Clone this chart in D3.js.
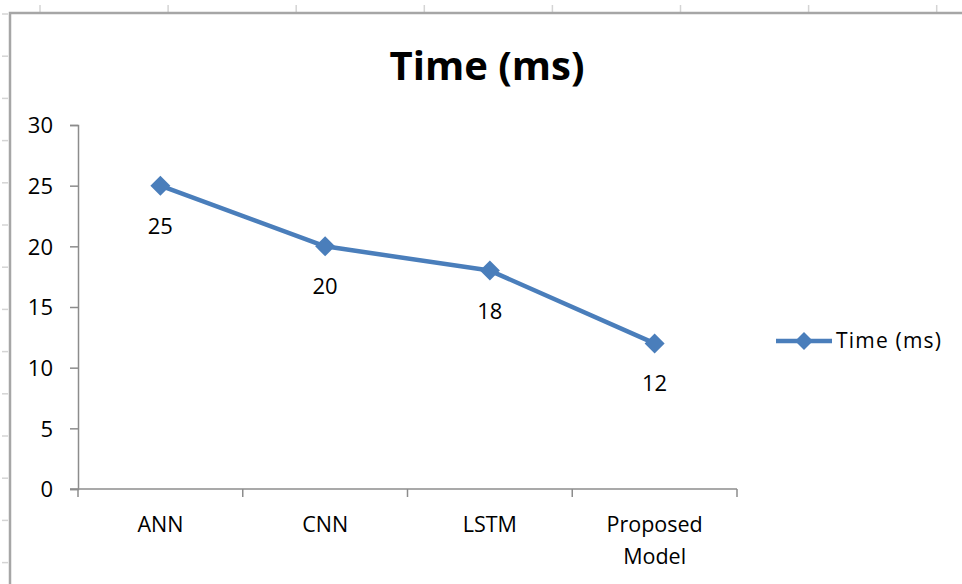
<!DOCTYPE html>
<html>
<head>
<meta charset="utf-8">
<script src="https://cdn.jsdelivr.net/npm/d3@7/dist/d3.min.js"></script>
<style>
  html, body { margin: 0; padding: 0; background: #fff; }
  svg { display: block; }
  text { font-family: "Open Sans", "Liberation Sans", sans-serif; fill: #000; }
</style>
</head>
<body>
<svg id="chart" width="962" height="584"></svg>
<script>
const categories = ["ANN", "CNN", "LSTM", "Proposed Model"];
const timeValues = [25, 20, 18, 12];
const seriesName = "Time (ms)";
const chartTitle = "Time (ms)";
const yTicks = [0, 5, 10, 15, 20, 25, 30];

const svg = d3.select("#chart");
const W = 962, H = 584;
const blue = "#4a7ebb";
const axisColor = "#8c8c8c";

// spreadsheet background marks (column / row gridline stubs)
const colMarks = d3.range(8).map(i => 40 + i * 128.1);
svg.append("g").selectAll("line").data(colMarks).join("line")
  .attr("x1", d => d).attr("x2", d => d).attr("y1", 5).attr("y2", 12)
  .attr("stroke", "#d4d4d4").attr("stroke-width", 1.5);
const rowMarks = d3.range(14).map(i => 14 + i * 42.2);
svg.append("g").selectAll("line").data(rowMarks).join("line")
  .attr("x1", 2).attr("x2", 8).attr("y1", d => d).attr("y2", d => d)
  .attr("stroke", "#d4d4d4").attr("stroke-width", 1.5);

// chart area border
svg.append("path")
  .attr("d", `M10,${H + 5} L10,13 L${W + 5},13`)
  .attr("fill", "none").attr("stroke", "#a6a6a6").attr("stroke-width", 2.5);

// title
svg.append("text")
  .attr("x", 487).attr("y", 80)
  .attr("text-anchor", "middle")
  .style("font-size", "40px").style("font-weight", "bold")
  .text(chartTitle);

const x0 = 78, x1 = 737, yTop = 125, yBot = 489;
const x = d3.scaleBand().domain(categories).range([x0, x1]);
const y = d3.scaleLinear().domain([0, 30]).range([yBot, yTop]);

// y axis
const yAxis = svg.append("g").attr("transform", `translate(${x0},0)`)
  .call(d3.axisLeft(y).tickValues(yTicks).tickSize(8).tickPadding(17));
yAxis.select(".domain").attr("stroke", axisColor).attr("stroke-width", 1.5);
yAxis.selectAll(".tick line").attr("stroke", axisColor).attr("stroke-width", 1.5);
yAxis.selectAll(".tick text")
  .style("font-size", "22px").style("font-family", "'Open Sans', sans-serif")
  .attr("fill", "#000").attr("dy", "0.36em");

// x axis
const xAxisG = svg.append("g").attr("transform", `translate(0,${yBot})`);
xAxisG.append("line").attr("x1", x0 - 8).attr("x2", x1)
  .attr("y1", 0).attr("y2", 0).attr("stroke", axisColor).attr("stroke-width", 1.5);
const bounds = categories.map(c => x(c)).concat([x1]);
xAxisG.selectAll("line.tk").data(bounds).join("line").attr("class", "tk")
  .attr("x1", d => d).attr("x2", d => d).attr("y1", 0).attr("y2", 8)
  .attr("stroke", axisColor).attr("stroke-width", 1.5);
const catLabels = xAxisG.selectAll("text.cat").data(categories).join("text")
  .attr("class", "cat")
  .attr("x", d => x(d) + x.bandwidth() / 2)
  .attr("y", 43)
  .attr("text-anchor", "middle")
  .style("font-size", "21.5px");
catLabels.each(function(d) {
  const words = d.split(" ");
  const t = d3.select(this);
  words.forEach((w, i) => {
    t.append("tspan").attr("x", x(d) + x.bandwidth() / 2)
      .attr("dy", i === 0 ? 0 : 32).text(w);
  });
});

// line
const px = d => x(d) + x.bandwidth() / 2;
const line = d3.line().x((d, i) => px(categories[i])).y(d => y(d));
svg.append("path").datum(timeValues)
  .attr("d", line).attr("fill", "none")
  .attr("stroke", blue).attr("stroke-width", 4.5)
  .attr("stroke-linejoin", "round");

const diamond = (cx, cy, r) => `M${cx},${cy - r}L${cx + r},${cy}L${cx},${cy + r}L${cx - r},${cy}Z`;
svg.append("g").selectAll("path").data(timeValues).join("path")
  .attr("d", (d, i) => diamond(px(categories[i]), y(d), 10))
  .attr("fill", blue);

// data labels
svg.append("g").selectAll("text").data(timeValues).join("text")
  .attr("x", (d, i) => px(categories[i]))
  .attr("y", d => y(d) + 48)
  .attr("text-anchor", "middle")
  .style("font-size", "22px")
  .text(d => d);

// legend
const lg = svg.append("g");
lg.append("line").attr("x1", 776).attr("x2", 832).attr("y1", 341).attr("y2", 341)
  .attr("stroke", blue).attr("stroke-width", 4.5);
lg.append("path").attr("d", diamond(804, 341, 9)).attr("fill", blue);
lg.append("text").attr("x", 836).attr("y", 348)
  .style("font-size", "21px").style("letter-spacing", "1.2px").text(seriesName);
</script>
</body>
</html>
